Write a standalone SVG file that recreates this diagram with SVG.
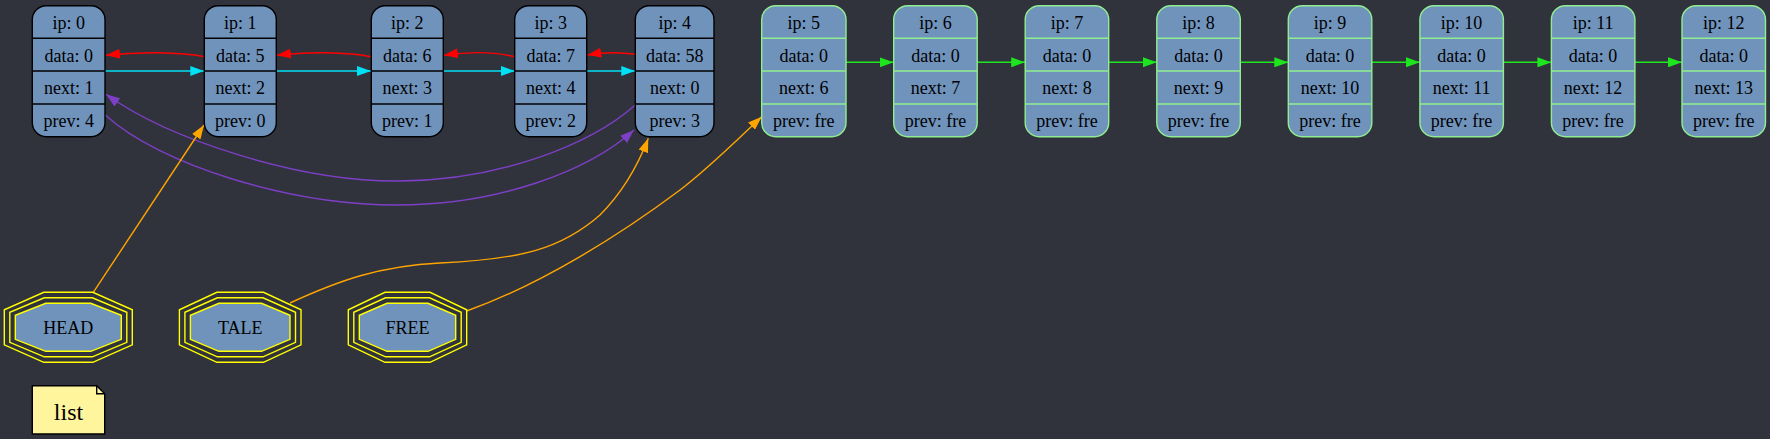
<svg xmlns="http://www.w3.org/2000/svg" width="1770" height="439" viewBox="0 0 1770 439">
<style>
text{font-family:"Liberation Serif","Times New Roman",serif;font-size:18px;fill:#000;text-anchor:middle}
.box{fill:#7093bc;stroke:#000;stroke-width:1.4}
.sep{stroke:#000;stroke-width:1.4}
.fbox{fill:#7093bc;stroke:#90ee90;stroke-width:1.4}
.fsep{stroke:#90ee90;stroke-width:1.4}
.oct{fill:none;stroke:#ffff00;stroke-width:1.4}
.octi{fill:#7093bc;stroke:#ffff00;stroke-width:1.4}
.e{fill:none;stroke-width:1.4}
.red{stroke:#ff0000;marker-end:url(#mr)}
.cyan{stroke:#00e1f5;marker-end:url(#mc)}
.pur{stroke:#7d3fc6;marker-end:url(#mp)}
.org{stroke:#ffa500;marker-end:url(#mo)}
.grn{stroke:#1ee61e;marker-end:url(#mg)}
</style>
<defs>
<marker id="mr" markerUnits="userSpaceOnUse" viewBox="0 0 14 10" markerWidth="14" markerHeight="10" refX="14" refY="5" orient="auto"><path d="M0,0 L14,5 L0,10 z" fill="#ff0000"/></marker>
<marker id="mc" markerUnits="userSpaceOnUse" viewBox="0 0 14 10" markerWidth="14" markerHeight="10" refX="14" refY="5" orient="auto"><path d="M0,0 L14,5 L0,10 z" fill="#00e1f5"/></marker>
<marker id="mp" markerUnits="userSpaceOnUse" viewBox="0 0 14 10" markerWidth="14" markerHeight="10" refX="14" refY="5" orient="auto"><path d="M0,0 L14,5 L0,10 z" fill="#7d3fc6"/></marker>
<marker id="mo" markerUnits="userSpaceOnUse" viewBox="0 0 14 10" markerWidth="14" markerHeight="10" refX="14" refY="5" orient="auto"><path d="M0,0 L14,5 L0,10 z" fill="#ffa500"/></marker>
<marker id="mg" markerUnits="userSpaceOnUse" viewBox="0 0 14 10" markerWidth="14" markerHeight="10" refX="14" refY="5" orient="auto"><path d="M0,0 L14,5 L0,10 z" fill="#1ee61e"/></marker>
</defs>
<rect x="0" y="0" width="1770" height="439" fill="#30333c"/>

<g id="connectors">
<path class="e cyan" d="M105,71 L204.3,71"/>
<path class="e cyan" d="M276.3,71 L371,71"/>
<path class="e cyan" d="M443.3,71 L514.7,71"/>
<path class="e cyan" d="M586.7,71 L635.3,71"/>
<path class="e red" d="M204.3,56.7 C180,52 140,51.5 106,55.3"/>
<path class="e red" d="M371,56.7 C347,52 307,51.5 277,55.3"/>
<path class="e red" d="M514.7,56.7 C495,52 470,51.5 444,55.3"/>
<path class="e red" d="M635.3,54.3 C620,52 605,52 587.3,55"/>
<path class="e pur" d="M635.3,105 C590,145 500,180 400,181 C300,182 170,140 106,94.3"/>
<path class="e pur" d="M105.3,115 C160,165 290,205 397,205 C500,205 590,170 634,130"/>
<path class="e org" d="M93.3,292.3 L204,125"/>
<path class="e org" d="M290,303 C340,280 380,266 440,263 C520,259 560,250 600,215 C625,190 640,160 648.3,138.3"/>
<path class="e org" d="M466.7,311 C540,285 620,235 680,190 C710,167 740,137 761.7,116.7"/>
<path class="e grn" d="M846,62.3 L893.7,62.3"/>
<path class="e grn" d="M977.2,62.3 L1025.2,62.3"/>
<path class="e grn" d="M1108.8,62.3 L1156.8,62.3"/>
<path class="e grn" d="M1240.3,62.3 L1288.3,62.3"/>
<path class="e grn" d="M1371.9,62.3 L1419.9,62.3"/>
<path class="e grn" d="M1503.4,62.3 L1551.4,62.3"/>
<path class="e grn" d="M1635,62.3 L1682,62.3"/>
</g>

<g id="node0">
<rect class="box" x="32.3" y="5.7" width="72.7" height="131" rx="14"/>
<path class="sep" d="M32.3,38.3H105M32.3,71H105M32.3,104H105"/>
<text x="68.7" y="29">ip: 0</text><text x="68.7" y="61.5">data: 0</text><text x="68.7" y="94.3">next: 1</text><text x="68.7" y="127">prev: 4</text>
</g>
<g id="node1">
<rect class="box" x="204.3" y="5.7" width="72" height="131" rx="14"/>
<path class="sep" d="M204.3,38.3H276.3M204.3,71H276.3M204.3,104H276.3"/>
<text x="240.3" y="29">ip: 1</text><text x="240.3" y="61.5">data: 5</text><text x="240.3" y="94.3">next: 2</text><text x="240.3" y="127">prev: 0</text>
</g>
<g id="node2">
<rect class="box" x="371.3" y="5.7" width="72" height="131" rx="14"/>
<path class="sep" d="M371.3,38.3H443.3M371.3,71H443.3M371.3,104H443.3"/>
<text x="407.3" y="29">ip: 2</text><text x="407.3" y="61.5">data: 6</text><text x="407.3" y="94.3">next: 3</text><text x="407.3" y="127">prev: 1</text>
</g>
<g id="node3">
<rect class="box" x="514.7" y="5.7" width="72" height="131" rx="14"/>
<path class="sep" d="M514.7,38.3H586.7M514.7,71H586.7M514.7,104H586.7"/>
<text x="550.7" y="29">ip: 3</text><text x="550.7" y="61.5">data: 7</text><text x="550.7" y="94.3">next: 4</text><text x="550.7" y="127">prev: 2</text>
</g>
<g id="node4">
<rect class="box" x="635.3" y="5.7" width="78.7" height="131" rx="14"/>
<path class="sep" d="M635.3,38.3H714M635.3,71H714M635.3,104H714"/>
<text x="674.7" y="29">ip: 4</text><text x="674.7" y="61.5">data: 58</text><text x="674.7" y="94.3">next: 0</text><text x="674.7" y="127">prev: 3</text>
</g>

<g id="node5">
<rect class="fbox" x="761.7" y="5.7" width="84.3" height="131" rx="14"/>
<path class="fsep" d="M761.7,38.3H846M761.7,71H846M761.7,104H846"/>
<text x="803.8" y="29">ip: 5</text><text x="803.8" y="61.5">data: 0</text><text x="803.8" y="94.3">next: 6</text><text x="803.8" y="127">prev: fre</text>
</g>
<g id="node6">
<rect class="fbox" x="893.7" y="5.7" width="83.5" height="131" rx="14"/>
<path class="fsep" d="M893.7,38.3H977.2M893.7,71H977.2M893.7,104H977.2"/>
<text x="935.4" y="29">ip: 6</text><text x="935.4" y="61.5">data: 0</text><text x="935.4" y="94.3">next: 7</text><text x="935.4" y="127">prev: fre</text>
</g>
<g id="node7">
<rect class="fbox" x="1025.2" y="5.7" width="83.5" height="131" rx="14"/>
<path class="fsep" d="M1025.2,38.3H1108.7M1025.2,71H1108.7M1025.2,104H1108.7"/>
<text x="1067" y="29">ip: 7</text><text x="1067" y="61.5">data: 0</text><text x="1067" y="94.3">next: 8</text><text x="1067" y="127">prev: fre</text>
</g>
<g id="node8">
<rect class="fbox" x="1156.8" y="5.7" width="83.5" height="131" rx="14"/>
<path class="fsep" d="M1156.8,38.3H1240.3M1156.8,71H1240.3M1156.8,104H1240.3"/>
<text x="1198.5" y="29">ip: 8</text><text x="1198.5" y="61.5">data: 0</text><text x="1198.5" y="94.3">next: 9</text><text x="1198.5" y="127">prev: fre</text>
</g>
<g id="node9">
<rect class="fbox" x="1288.3" y="5.7" width="83.5" height="131" rx="14"/>
<path class="fsep" d="M1288.3,38.3H1371.8M1288.3,71H1371.8M1288.3,104H1371.8"/>
<text x="1330" y="29">ip: 9</text><text x="1330" y="61.5">data: 0</text><text x="1330" y="94.3">next: 10</text><text x="1330" y="127">prev: fre</text>
</g>
<g id="node10">
<rect class="fbox" x="1419.9" y="5.7" width="83.5" height="131" rx="14"/>
<path class="fsep" d="M1419.9,38.3H1503.4M1419.9,71H1503.4M1419.9,104H1503.4"/>
<text x="1461.6" y="29">ip: 10</text><text x="1461.6" y="61.5">data: 0</text><text x="1461.6" y="94.3">next: 11</text><text x="1461.6" y="127">prev: fre</text>
</g>
<g id="node11">
<rect class="fbox" x="1551.4" y="5.7" width="83.5" height="131" rx="14"/>
<path class="fsep" d="M1551.4,38.3H1634.9M1551.4,71H1634.9M1551.4,104H1634.9"/>
<text x="1593.1" y="29">ip: 11</text><text x="1593.1" y="61.5">data: 0</text><text x="1593.1" y="94.3">next: 12</text><text x="1593.1" y="127">prev: fre</text>
</g>
<g id="node12">
<rect class="fbox" x="1682" y="5.7" width="83.5" height="131" rx="14"/>
<path class="fsep" d="M1682,38.3H1765.5M1682,71H1765.5M1682,104H1765.5"/>
<text x="1723.7" y="29">ip: 12</text><text x="1723.7" y="61.5">data: 0</text><text x="1723.7" y="94.3">next: 13</text><text x="1723.7" y="127">prev: fre</text>
</g>

<g id="HEAD">
<polygon class="oct" points="43.8,292.3 92.8,292.3 132.3,309.8 132.3,344.8 92.8,362.3 43.8,362.3 4.3,344.8 4.3,309.8"/>
<polygon class="oct" points="44.3,297.8 92.3,297.8 126.8,312.3 126.8,342.3 92.3,356.8 44.3,356.8 9.8,342.3 9.8,312.3"/>
<polygon class="octi" points="45.8,303.3 90.8,303.3 121.3,315.3 121.3,339.3 90.8,351.3 45.8,351.3 15.3,339.3 15.3,315.3"/>
<text x="68.3" y="333.8">HEAD</text>
</g>
<g id="TALE">
<polygon class="oct" points="216.9,292.3 263.5,292.3 301,309.8 301,344.8 263.5,362.3 216.9,362.3 179.4,344.8 179.4,309.8"/>
<polygon class="oct" points="217.4,297.8 263,297.8 295.5,312.3 295.5,342.3 263,356.8 217.4,356.8 184.9,342.3 184.9,312.3"/>
<polygon class="octi" points="218.9,303.3 261.5,303.3 290,315.3 290,339.3 261.5,351.3 218.9,351.3 190.4,339.3 190.4,315.3"/>
<text x="240.2" y="333.8">TALE</text>
</g>
<g id="FREE">
<polygon class="oct" points="385,292.3 430,292.3 466.7,309.8 466.7,344.8 430,362.3 385,362.3 348.3,344.8 348.3,309.8"/>
<polygon class="oct" points="385.5,297.8 429.5,297.8 461.2,312.3 461.2,342.3 429.5,356.8 385.5,356.8 353.8,342.3 353.8,312.3"/>
<polygon class="octi" points="387,303.3 428,303.3 455.7,315.3 455.7,339.3 428,351.3 387,351.3 359.3,339.3 359.3,315.3"/>
<text x="407.5" y="333.8">FREE</text>
</g>

<g id="list">
<path d="M32.3,385.7 L96.7,385.7 L104.7,393.7 L104.7,434 L32.3,434 Z" fill="#fff59d" stroke="#000" stroke-width="1.4"/>
<path d="M96.7,385.7 L96.7,393.7 L104.7,393.7" fill="none" stroke="#000" stroke-width="1.4"/>
<text x="68.5" y="420" style="font-size:24px">list</text>
</g>
</svg>
